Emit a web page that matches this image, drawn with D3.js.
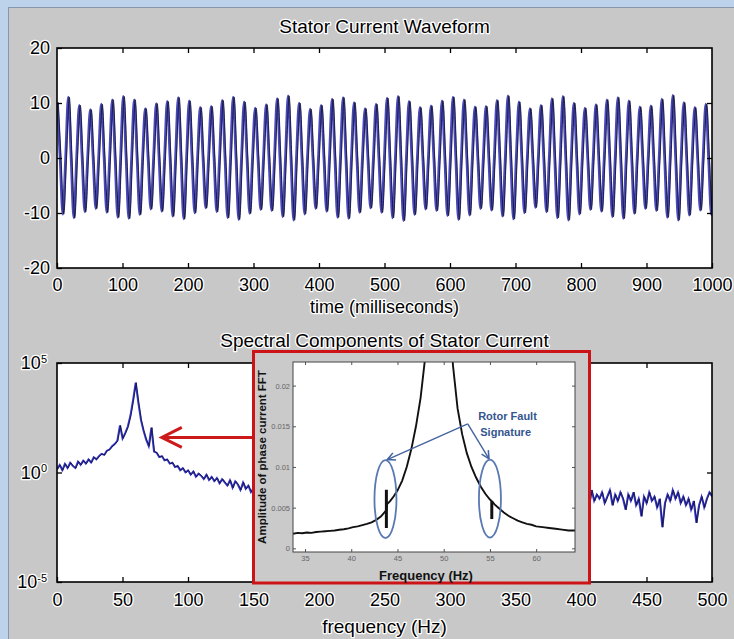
<!DOCTYPE html>
<html><head><meta charset="utf-8">
<script src="https://cdn.jsdelivr.net/npm/d3@7"></script>
<style>
html,body{margin:0;padding:0;background:#b9d1ea;}
svg{display:block;}
text{font-family:"Liberation Sans",Arial,sans-serif;}
</style></head><body>
<svg id="c" width="734" height="639"></svg>
<script>
// ---------------- DATA ----------------
const topTitle = "Stator Current Waveform";
const topXLabel = "time (milliseconds)";
const topXTicks = [0,100,200,300,400,500,600,700,800,900,1000];
const topYTicks = [-20,-10,0,10,20];
const wavePeriodMs = 16.78;           // ≈ 11 px per cycle in the picture
const wavePeaks = [10.1,11.1,9.6,8.8,9.8,10.6,11.2,10.6,9.0,9.9,10.3,11.0,10.4,9.2,9.4,10.5,11.1,10.2,9.1,9.7,10.8,11.3,10.0,8.9,9.6,10.7,11.0,10.1,9.0,9.8,10.9,11.2,10.3,9.2,9.5,10.4,11.1,10.6,9.3,9.4,10.5,11.3,10.2,9.0,9.6,10.8,11.2,10.0,9.1,9.7,10.6,11.0,10.4,9.3,9.5,10.7,11.4,10.1,9.2,9.8];
const waveTroughs = [-10.2,-10.9,-9.8,-9.2,-9.9,-10.8,-11.0,-10.3,-9.3,-9.7,-10.6,-11.1,-10.0,-9.1,-9.8,-10.9,-11.2,-10.1,-9.4,-9.6,-10.7,-11.3,-10.2,-9.2,-9.7,-10.8,-11.0,-9.9,-9.1,-9.9,-10.9,-11.4,-10.3,-9.3,-9.6,-10.5,-11.2,-10.4,-9.2,-9.5,-10.6,-11.1,-10.0,-9.0,-9.8,-10.9,-11.3,-10.2,-9.4,-9.7,-10.7,-11.0,-10.1,-9.2,-9.6,-10.8,-11.3,-10.4,-9.5,-10.3];

const botTitle = "Spectral Components of Stator Current";
const botXLabel = "frequency (Hz)";
const botXTicks = [0,50,100,150,200,250,300,350,400,450,500];
const botYExps = [-5,0,5];
const specStepHz = 2;
// log10 of spectral amplitude, one value every 2 Hz from 0 to 500 Hz
const specLog10 = [
 0.15,0.35,0.1,0.4,0.2,0.45,0.3,0.2,0.5,0.35,
 0.55,0.4,0.6,0.45,0.7,0.6,0.75,0.85,0.8,1.0,
 1.05,1.2,1.3,1.45,2.15,1.55,1.8,2.1,2.6,3.3,
 4.1,3.2,2.4,1.9,1.5,1.2,2.05,0.95,0.9,0.7,
 0.75,0.55,0.6,0.4,0.45,0.25,0.3,0.1,0.2,0.0,
 0.1,-0.1,0.05,-0.2,-0.05,-0.15,-0.3,-0.1,-0.35,-0.2,
 -0.4,-0.25,-0.5,-0.3,-0.45,-0.6,-0.35,-0.7,-0.4,-0.55,
 -0.8,-0.45,-0.75,-0.6,-0.9,
 -0.7,-1.0,-0.85,-1.1,-0.9,-1.2,-0.95,-0.8,-1.15,-1.0,
 -1.3,-0.9,-1.05,-1.2,-0.85,-1.1,-1.4,-1.0,-0.9,-1.25,
 -1.05,-1.15,-0.95,-1.35,-1.0,-1.2,-0.9,-1.1,-1.45,-1.05,
 -1.2,-0.95,-1.3,-1.1,-1.0,-1.25,-1.5,-1.05,-1.15,-0.9,
 -1.3,-1.1,-1.2,-1.0,-1.4,-1.15,-0.95,-1.25,-1.1,-1.35,
 -1.0,-1.2,-1.6,-1.1,-1.05,-1.3,-1.15,-0.95,-1.25,-1.4,
 -1.1,-1.2,-1.0,-1.35,-1.15,-1.5,-1.05,-1.25,-1.1,-1.3,
 -1.2,-0.95,-1.4,-1.15,-1.05,-1.3,-1.55,-1.1,-1.2,-1.0,
 -1.35,-1.15,-1.25,-1.05,-1.45,-1.2,-1.1,-1.3,-1.0,-1.25,
 -1.4,-1.1,-1.2,-1.6,-1.15,-1.05,-1.3,-1.2,-1.1,-1.35,
 -1.0,-1.25,-1.45,-1.15,-1.2,-1.05,-1.35,-1.1,-1.3,-1.5,
 -1.15,-1.2,-1.0,-1.4,-1.25,-1.1,-1.3,-1.05,-1.2,-1.45,
 -1.1,-1.3,-1.0,-1.25,-1.15,
 -1.1,-1.3,-0.9,-1.6,-0.8,-1.3,-1.0,-1.2,-0.9,-1.4,
 -1.1,-0.8,-1.5,-1.0,-1.3,-0.9,-1.2,-1.7,-1.0,-1.3,
 -0.9,-1.5,-1.2,-2.0,-1.1,-1.4,-0.9,-1.3,-1.1,-1.6,
 -1.2,-2.5,-1.4,-1.0,-1.3,-0.8,-1.2,-0.9,-1.4,-1.1,
 -1.5,-1.2,-1.7,-1.3,-2.3,-1.5,-1.1,-1.6,-1.2,-0.9,-1.1];

// inset (zoom of the FFT around the supply frequency)
const insetXLabel = "Frequency (Hz)";
const insetYLabel = "Amplitude of phase current FFT";
const insetXTicks = [35,40,45,50,55,60];
const insetYTicks = [0,0.005,0.01,0.015,0.02];
const insetYTickLabels = ["0","0.005","0.01","0.015","0.02"];
const insetFreq = [33.7,34.2,34.7,35.2,35.7,36.2,36.7,37.2,37.7,38.2,38.7,39.2,39.7,40.2,40.7,41.2,41.7,42.2,42.7,43.2,43.5,43.8,43.85,44.2,44.6,45,45.5,46,46.5,47,47.5,48,48.5,49,49.5,50,50.5,51,51.5,52,52.5,53,53.5,54,54.5,55,55.2,55.5,56,56.5,57,57.5,58,58.5,59,59.5,60,60.7,61.4,62.1,62.8,63.5,64.2];
const insetAmp = [0.0018,0.0019,0.00185,0.00195,0.0019,0.002,0.00205,0.0021,0.00215,0.0022,0.00228,0.00235,0.00245,0.0026,0.0027,0.00285,0.003,0.0032,0.0035,0.0039,0.0043,0.0047,0.0054,0.0058,0.0064,0.0071,0.0083,0.0100,0.0122,0.0150,0.0185,0.0235,0.032,0.06,0.1,0.06,0.032,0.0225,0.0172,0.0140,0.0117,0.0100,0.0087,0.0076,0.0067,0.0060,0.0058,0.0054,0.0049,0.0044,0.0040,0.0037,0.0034,0.0032,0.0030,0.0029,0.0027,0.0026,0.0025,0.0024,0.0023,0.0022,0.0022];
const spikeFreq = [43.8,55.2];
const spikeLow  = [0.0025,0.0036];
const spikeHigh = [0.0072,0.0058];
const faultText = ["Rotor Fault","Signature"];
const faultTextPos = [[56.9,0.0163],[56.7,0.0143]];
const faultArrowFrom = [52.6,0.0153];
const faultArrowTo = [[43.9,0.0109],[54.9,0.0110]];
const faultEllipse = [[43.7,0.00606],[55.0,0.00612]];
const redArrowTip = [80, 40];   // Hz, amplitude in the main spectrum

// ---------------- DRAWING ----------------
const svg = d3.select("#c");
const defs = svg.append("defs");
svg.append("rect").attr("width",734).attr("height",639).attr("fill","#bcd3eb");
svg.append("rect").attr("x",8.5).attr("y",7.5).attr("width",726).attr("height",632)
  .attr("fill","#c8c8c8").attr("stroke","#8797ab");

const plain = d => String(d);   // hyphen minus, no thousands separator
function halo(sel){
  sel.attr("fill","#000").attr("stroke","#fff").attr("stroke-width",2.6)
     .attr("stroke-linejoin","round").attr("paint-order","stroke");
}
function styleAxis(g,fs){
  g.select(".domain").remove();
  g.selectAll(".tick line").attr("stroke","#000").attr("stroke-width",1.3);
  g.selectAll(".tick text").attr("font-size",fs+"px");
  halo(g.selectAll(".tick text"));
}

// ---- top plot ----
const P1 = {l:57, r:712, t:48, b:268};
const x1 = d3.scaleLinear().domain([0,1000]).range([P1.l,P1.r]);
const y1 = d3.scaleLinear().domain([-20,20]).range([P1.b,P1.t]);
svg.append("rect").attr("x",P1.l).attr("y",P1.t).attr("width",P1.r-P1.l).attr("height",P1.b-P1.t).attr("fill","#fff");
defs.append("clipPath").attr("id","clip1").append("rect").attr("x",P1.l).attr("y",P1.t).attr("width",P1.r-P1.l).attr("height",P1.b-P1.t);

const wavePts = [];
wavePeaks.forEach((p,k)=>{
  const t0 = k*wavePeriodMs;
  wavePts.push([t0+0.5,p],[t0+4.7,0],[t0+8.9,waveTroughs[k]],[t0+13.1,0]);
});
const waveLine = d3.line().x(d=>x1(d[0])).y(d=>y1(d[1])).curve(d3.curveMonotoneX);
const wg = svg.append("g").attr("clip-path","url(#clip1)");
wg.append("path").attr("d",waveLine(wavePts)).attr("fill","none").attr("stroke","#4848b8").attr("stroke-width",2.6);
wg.append("path").attr("d",waveLine(wavePts)).attr("fill","none").attr("stroke","#0a0a20").attr("stroke-width",0.9).attr("opacity",0.85).attr("transform","translate(1,0)");

svg.append("g").attr("transform",`translate(0,${P1.b})`)
  .call(d3.axisBottom(x1).tickValues(topXTicks).tickFormat(plain).tickSizeInner(-5).tickSizeOuter(0).tickPadding(10))
  .call(g=>styleAxis(g,18));
svg.append("g").attr("transform",`translate(0,${P1.t})`)
  .call(d3.axisTop(x1).tickValues(topXTicks.slice(1,-1)).tickSizeInner(-5).tickSizeOuter(0).tickFormat(""))
  .call(g=>styleAxis(g,18));
svg.append("g").attr("transform",`translate(${P1.l},0)`)
  .call(d3.axisLeft(y1).tickValues(topYTicks).tickFormat(plain).tickSizeInner(-5).tickSizeOuter(0).tickPadding(7))
  .call(g=>styleAxis(g,18));
svg.append("g").attr("transform",`translate(${P1.r},0)`)
  .call(d3.axisRight(y1).tickValues(topYTicks.slice(1,-1)).tickSizeInner(-5).tickSizeOuter(0).tickFormat(""))
  .call(g=>styleAxis(g,18));
svg.append("rect").attr("x",P1.l).attr("y",P1.t).attr("width",P1.r-P1.l).attr("height",P1.b-P1.t)
  .attr("fill","none").attr("stroke","#000").attr("stroke-width",1.6);
svg.append("text").attr("x",(P1.l+P1.r)/2).attr("y",33).attr("text-anchor","middle").attr("font-size","19px").text(topTitle).call(halo);
svg.append("text").attr("x",(P1.l+P1.r)/2).attr("y",313).attr("text-anchor","middle").attr("font-size","18px").text(topXLabel).call(halo);

// ---- bottom plot ----
const P2 = {l:57, r:712, t:363, b:582};
const x2 = d3.scaleLinear().domain([0,500]).range([P2.l,P2.r]);
const y2 = d3.scaleLog().domain([1e-5,1e5]).range([P2.b,P2.t]);
svg.append("rect").attr("x",P2.l).attr("y",P2.t).attr("width",P2.r-P2.l).attr("height",P2.b-P2.t).attr("fill","#fff");
defs.append("clipPath").attr("id","clip2").append("rect").attr("x",P2.l).attr("y",P2.t).attr("width",P2.r-P2.l).attr("height",P2.b-P2.t);
const specPts = specLog10.map((v,i)=>[i*specStepHz, Math.pow(10,v)]);
const specLine = d3.line().x(d=>x2(d[0])).y(d=>y2(d[1]));
const sg = svg.append("g").attr("clip-path","url(#clip2)");
sg.append("path").attr("d",specLine(specPts)).attr("fill","none").attr("stroke","#3434cc").attr("stroke-width",1.8);
sg.append("path").attr("d",specLine(specPts)).attr("fill","none").attr("stroke","#08082a").attr("stroke-width",0.9).attr("opacity",0.8).attr("transform","translate(0.7,0)");

svg.append("g").attr("transform",`translate(0,${P2.b})`)
  .call(d3.axisBottom(x2).tickValues(botXTicks).tickFormat(plain).tickSizeInner(-5).tickSizeOuter(0).tickPadding(11))
  .call(g=>styleAxis(g,18));
svg.append("g").attr("transform",`translate(0,${P2.t})`)
  .call(d3.axisTop(x2).tickValues(botXTicks.slice(1,-1)).tickSizeInner(-5).tickSizeOuter(0).tickFormat(""))
  .call(g=>styleAxis(g,18));
const yAx2 = svg.append("g").attr("transform",`translate(${P2.l},0)`)
  .call(d3.axisLeft(y2).tickValues(botYExps.map(e=>Math.pow(10,e))).tickSizeInner(-5).tickSizeOuter(0).tickPadding(10).tickFormat(""))
  .call(g=>styleAxis(g,18));
yAx2.selectAll(".tick text").each(function(d,i){
  const t = d3.select(this);
  t.append("tspan").text("10");
  t.append("tspan").attr("dy","-0.6em").attr("font-size","11px").text(botYExps[i] < 0 ? "-" + Math.abs(botYExps[i]) : String(botYExps[i]));
});
svg.append("g").attr("transform",`translate(${P2.r},0)`)
  .call(d3.axisRight(y2).tickValues([1]).tickSizeInner(-5).tickSizeOuter(0).tickFormat(""))
  .call(g=>styleAxis(g,18));
svg.append("rect").attr("x",P2.l).attr("y",P2.t).attr("width",P2.r-P2.l).attr("height",P2.b-P2.t)
  .attr("fill","none").attr("stroke","#000").attr("stroke-width",1.6);
svg.append("text").attr("x",(P2.l+P2.r)/2).attr("y",347).attr("text-anchor","middle").attr("font-size","19px").text(botTitle).call(halo);
svg.append("text").attr("x",(P2.l+P2.r)/2).attr("y",633).attr("text-anchor","middle").attr("font-size","19px").text(botXLabel).call(halo);

// red arrow pointing at the sideband region
const tipX = x2(redArrowTip[0]), tipY = y2(redArrowTip[1]);
const IN = {x:252, y:350, w:339, h:233};
svg.append("line").attr("x1",IN.x).attr("y1",tipY).attr("x2",tipX+2).attr("y2",tipY)
  .attr("stroke","#cc1a1a").attr("stroke-width",3);
svg.append("path").attr("d",`M${tipX+20},${tipY-10}L${tipX},${tipY}L${tipX+20},${tipY+10}`)
  .attr("fill","none").attr("stroke","#cc1a1a").attr("stroke-width",3).attr("stroke-linejoin","miter");

// ---- inset ----
svg.append("rect").attr("x",IN.x+1.5).attr("y",IN.y+1.5).attr("width",IN.w-3).attr("height",IN.h-1.5)
  .attr("fill","#cacaca").attr("stroke","#cc1418").attr("stroke-width",3);
const P3 = {l:293, r:575, t:362, b:552};
const x3 = d3.scaleLinear().domain([33.7,64.2]).range([P3.l,P3.r]);
const y3 = d3.scaleLinear().domain([-0.00045,0.0229]).range([P3.b,P3.t]);
svg.append("rect").attr("x",P3.l).attr("y",P3.t).attr("width",P3.r-P3.l).attr("height",P3.b-P3.t).attr("fill","#fff");
defs.append("clipPath").attr("id","clip3").append("rect").attr("x",P3.l).attr("y",P3.t).attr("width",P3.r-P3.l).attr("height",P3.b-P3.t);
const ig = svg.append("g").attr("clip-path","url(#clip3)");
const insetLine = d3.line().x((d,i)=>x3(insetFreq[i])).y(d=>y3(d));
ig.append("path").attr("d",insetLine(insetAmp)).attr("fill","none").attr("stroke","#111").attr("stroke-width",1.9);
ig.selectAll("line.spike").data(spikeFreq).join("line").attr("class","spike")
  .attr("x1",d=>x3(d)).attr("x2",d=>x3(d))
  .attr("y1",(d,i)=>y3(spikeLow[i])).attr("y2",(d,i)=>y3(spikeHigh[i]))
  .attr("stroke","#111").attr("stroke-width",3);

function styleInsetAxis(g){
  g.select(".domain").remove();
  g.selectAll(".tick line").attr("stroke","#555").attr("stroke-width",1);
  g.selectAll(".tick text").attr("font-size","7.5px").attr("fill","#666");
}
svg.append("g").attr("transform",`translate(0,${P3.b})`)
  .call(d3.axisBottom(x3).tickValues(insetXTicks).tickFormat(plain).tickSizeInner(-3).tickSizeOuter(0).tickPadding(4)).call(styleInsetAxis);
svg.append("g").attr("transform",`translate(0,${P3.t})`)
  .call(d3.axisTop(x3).tickValues(insetXTicks).tickSizeInner(-3).tickSizeOuter(0).tickFormat("")).call(styleInsetAxis);
svg.append("g").attr("transform",`translate(${P3.l},0)`)
  .call(d3.axisLeft(y3).tickValues(insetYTicks).tickSizeInner(-3).tickSizeOuter(0).tickPadding(3).tickFormat((d,i)=>insetYTickLabels[i])).call(styleInsetAxis);
svg.append("g").attr("transform",`translate(${P3.r},0)`)
  .call(d3.axisRight(y3).tickValues(insetYTicks).tickSizeInner(-3).tickSizeOuter(0).tickFormat("")).call(styleInsetAxis);
svg.append("rect").attr("x",P3.l).attr("y",P3.t).attr("width",P3.r-P3.l).attr("height",P3.b-P3.t)
  .attr("fill","none").attr("stroke","#444").attr("stroke-width",1);
svg.append("text").attr("x",(P3.l+P3.r)/2-8).attr("y",580).attr("text-anchor","middle")
  .attr("font-size","13px").attr("font-weight","bold").attr("fill","#111").text(insetXLabel);
svg.append("text").attr("transform",`translate(266,${(P3.t+P3.b)/2}) rotate(-90)`).attr("text-anchor","middle")
  .attr("font-size","11.5px").attr("font-weight","bold").attr("fill","#111").text(insetYLabel);

// annotations inside inset
const blue = "#44649f";
defs.append("marker").attr("id","ah").attr("viewBox","0 0 10 10").attr("refX",9).attr("refY",5)
  .attr("markerWidth",7).attr("markerHeight",7).attr("orient","auto")
  .append("path").attr("d","M1,1L9,5L1,9").attr("fill","none").attr("stroke",blue).attr("stroke-width",1.6);
faultArrowTo.forEach(p=>{
  svg.append("line").attr("x1",x3(faultArrowFrom[0])).attr("y1",y3(faultArrowFrom[1]))
    .attr("x2",x3(p[0])).attr("y2",y3(p[1])).attr("stroke",blue).attr("stroke-width",1.4).attr("marker-end","url(#ah)");
});
faultEllipse.forEach(p=>{
  svg.append("ellipse").attr("cx",x3(p[0])).attr("cy",y3(p[1])).attr("rx",11).attr("ry",39)
    .attr("fill","none").attr("stroke","#5a78b2").attr("stroke-width",1.8);
});
faultText.forEach((t,i)=>{
  svg.append("text").attr("x",x3(faultTextPos[i][0])).attr("y",y3(faultTextPos[i][1])).attr("dy","0.35em")
    .attr("text-anchor","middle").attr("font-family","Lato, 'Open Sans', sans-serif").attr("font-weight","bold")
    .attr("font-size","11px").attr("fill","#34568f").text(t);
});
</script>
</body></html>
